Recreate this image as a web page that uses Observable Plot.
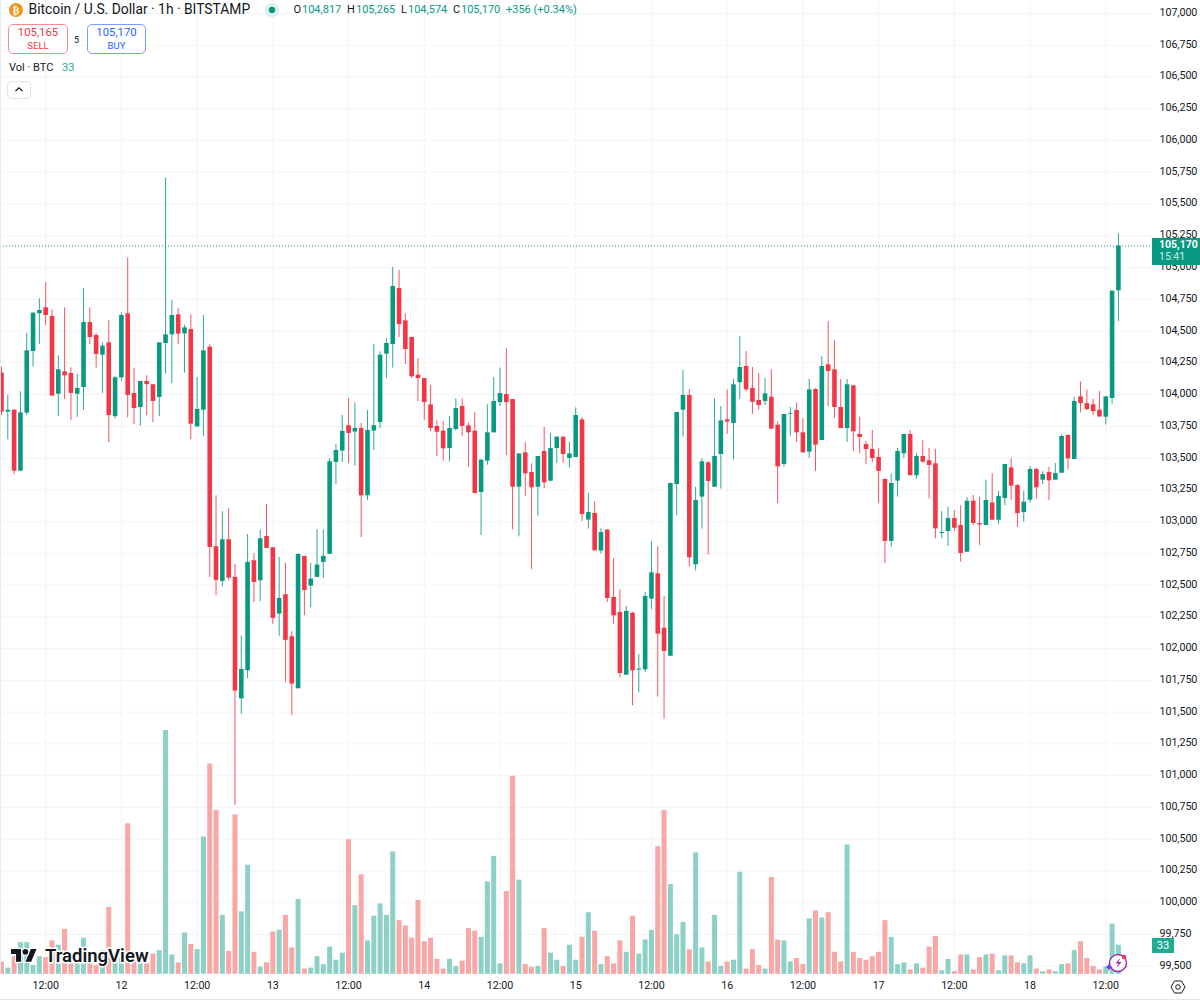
<!DOCTYPE html>
<html>
<head>
<meta charset="utf-8">
<script src="https://cdn.jsdelivr.net/npm/d3@7"></script>
<script src="https://cdn.jsdelivr.net/npm/@observablehq/plot@0.6"></script>
<style>
html,body{margin:0;padding:0;background:#fff;}
#wrap{position:relative;width:1200px;height:1004px;overflow:hidden;font-family:Roboto,sans-serif;color:#131722;}
#wrap svg{display:block;}
.t{position:absolute;white-space:nowrap;line-height:1;}
.box{position:absolute;border-radius:5px;box-sizing:border-box;background:#fff;}
</style>
</head>
<body>
<div id="wrap"></div>
<script>
const startHour = Date.UTC(2025, 5, 11, 5);
const open = [
104169,103862,103877,103397,103854,104339,104636,104683,104615,104003,
104179,104166,104003,104056,104567,104465,104310,104407,103827,104132,
104636,104009,103898,104103,104077,103977,104402,104470,104628,104478,
104512,103746,103877,104373,102802,102529,102857,102561,101605,101826,
102692,102534,102883,102794,102272,102424,102094,101684,102726,102492,
102561,102679,102742,103466,103555,103755,103705,103734,103203,103713,
103780,104318,104394,104835,104580,104449,104153,104126,103919,103749,
103712,103575,103725,103906,103754,103712,103229,103476,103699,103937,
104000,103961,103271,103541,103386,103271,103552,103318,103575,103665,
103497,103504,103801,103012,103064,102768,102933,102403,102285,101791,
102279,101831,101833,102390,102589,102161,101941,103292,103877,103993,
102660,103193,103463,103271,103528,103801,103772,104093,104221,104048,
103954,103946,103980,103759,103450,103843,103875,103699,103547,104040,
103639,104234,104195,103898,103733,104069,103686,103607,103568,103505,
103332,102844,103319,103534,103686,103361,103513,103479,103455,102906,
102922,103024,102969,102759,103161,102985,102969,103147,103011,103182,
103423,103284,103071,103168,103410,103326,103386,103326,103381,103678,
103489,103982,103929,103919,103877,103822,103969,104817];
const high = [
104216,103993,103883,104022,104483,104644,104754,104882,104667,104305,
104683,104211,104158,104835,104683,104483,104407,104581,104145,104644,
105077,104208,104106,104148,104079,104407,105704,104741,104678,104546,
104628,104132,104623,104395,103203,103078,103101,102663,102099,102899,
102747,102933,103135,102797,102718,102671,102133,102747,102726,102671,
102938,102933,103495,103608,103836,103967,103933,103773,103873,104395,
104336,104441,105000,104977,104635,104449,104284,104126,104071,103793,
103788,103827,103966,103966,103777,103856,103486,103919,104134,104210,
104360,103961,103533,103623,103455,103512,103741,103693,103667,103667,
103623,103895,103819,103224,103156,102943,102938,102707,102463,102332,
102285,101954,102442,102844,102802,102411,103303,103859,104190,104038,
103271,103497,103470,103969,103906,104037,104119,104457,104339,104213,
104166,104127,104195,103786,103843,103898,103933,103812,104119,104045,
104300,104575,104423,104119,104119,104072,103822,103631,103717,103573,
103332,103376,103576,103686,103717,103534,103636,103576,103568,103079,
103113,103087,103124,103189,103205,103192,103326,103376,103237,103449,
103496,103292,103237,103433,103418,103392,103428,103457,103683,103683,
103979,104100,104037,103961,104024,103985,104814,105265];
const low = [
103835,103644,103368,103397,103835,104216,104394,104544,103988,103827,
103961,103796,103822,103877,104394,104208,104009,103623,103809,104106,
103817,103762,103749,103835,103780,103827,104161,104085,104394,104169,
103644,103741,103670,102561,102416,102487,102534,100766,101482,101763,
102364,102369,102789,102191,102096,101734,101474,101684,102259,102322,
102561,102553,102742,103293,103466,103458,103437,102873,103167,103560,
103733,104126,104208,104449,104237,104126,103945,103796,103709,103512,
103476,103470,103712,103670,103428,103221,102890,103444,103696,103906,
103520,102935,102880,103197,102623,103043,103258,103315,103457,103457,
103423,103504,103001,102941,102770,102744,102363,102193,101770,101791,
101550,101652,101812,102308,101618,101445,101941,103046,103665,102644,
102610,102941,102736,103271,103256,103686,103486,103961,104022,103843,
103877,103914,103728,103143,103429,103670,103623,103536,103497,103395,
103639,103906,103814,103733,103623,103552,103534,103450,103465,103145,
102670,102796,103193,103497,103361,103332,103458,103177,102865,102864,
102804,102924,102680,102759,102969,102812,102969,103011,102977,103126,
103168,102953,102995,103147,103176,103292,103166,103326,103381,103407,
103486,103856,103874,103835,103819,103761,103924,104574];
const close = [
103862,103877,103397,103856,104344,104641,104662,104623,103988,104195,
104148,104009,104048,104567,104449,104316,104381,103835,104132,104623,
103993,103890,104103,104079,103946,104407,104470,104623,104476,104525,
103767,103883,104344,102797,102537,102857,102555,101666,101836,102679,
102521,102865,102789,102238,102395,102065,101721,102742,102458,102547,
102658,102726,103471,103560,103710,103694,103734,103203,103718,103755,
104310,104402,104851,104551,104355,104140,104126,103937,103733,103704,
103573,103733,103890,103749,103699,103221,103484,103699,103945,104008,
103937,103271,103533,103376,103266,103512,103305,103575,103665,103528,
103533,103835,103056,103072,102770,102914,102395,102258,101804,102293,
101825,101839,102411,102597,102114,101978,103300,103859,103993,102715,
103166,103471,103316,103513,103793,103783,104077,104213,104037,103940,
103914,104006,103728,103431,103843,103849,103699,103542,104037,103602,
104221,104182,103898,103733,104077,103707,103662,103568,103497,103395,
102844,103300,103552,103686,103361,103513,103468,103442,102943,102914,
103024,102948,102749,103161,102985,102974,103166,103011,103197,103449,
103279,103063,103153,103410,103266,103370,103321,103378,103670,103494,
103945,103929,103882,103866,103824,103982,104814,105170];
const volume = [
14,7,20,36,36,10,20,19,38,33,
51,13,12,41,12,10,27,76,23,18,
171,14,12,12,23,27,277,22,13,47,
34,28,156,239,186,67,26,181,71,124,
25,8,13,48,50,67,30,85,6,7,
20,11,31,16,24,153,78,113,38,66,
80,67,139,61,55,41,84,37,41,17,
6,17,9,15,52,49,42,105,134,12,
94,225,107,11,8,9,52,24,16,9,
33,16,42,70,49,11,20,12,38,25,
66,23,39,50,145,186,102,45,59,28,
138,30,14,67,9,14,16,116,6,28,
10,6,110,39,38,14,18,11,63,72,
64,70,25,14,147,25,18,16,20,25,
61,42,11,13,5,12,7,31,43,4,
17,3,22,22,5,19,22,23,4,21,
21,13,12,21,6,3,5,3,11,12,
27,37,18,9,5,8,57,33];
const priceTicks = d3.range(99500, 107001, 250);
const timeTicks = d3.range(0, 15).map(k => new Date(Date.UTC(2025, 5, 11, 12) + k * 12 * 3600e3));
const lastPrice = 105170;

// Volume pane sits at the bottom of the price pane, like an overlay scale.
const volumeBase = 99436, pricePerVolume = 6.93;
const candles = open.map((o, i) => ({
  t: new Date(startHour + i * 3600e3), o, h: high[i], l: low[i], c: close[i], v: volume[i],
  up: close[i] >= o
}));
const UP = "#089981", DOWN = "#f23645", UPV = "#8dd1c6", DOWNV = "#f8a6a6", GRID = "#f3f4f6";

const chart = Plot.plot({
  width: 1200, height: 1004,
  marginTop: 0, marginLeft: 0, marginRight: 48, marginBottom: 30,
  style: {fontFamily: "Roboto, sans-serif", fontSize: "10.7px", letterSpacing: "-0.05px", color: "#131722", background: "transparent"},
  x: {type: "utc", domain: [new Date(startHour), new Date(startHour + 177 * 3600e3)], range: [1, 1117.9]},
  y: {domain: [99500, 107000], range: [965.7, 13]},
  marks: [
    Plot.ruleY(priceTicks, {stroke: GRID, strokeWidth: 1}),
    Plot.ruleX(timeTicks, {stroke: GRID, strokeWidth: 1}),
    Plot.ruleX(candles, {x: "t", y1: volumeBase, y2: d => volumeBase + d.v * pricePerVolume,
      stroke: d => d.up ? UPV : DOWNV, strokeWidth: 5}),
    Plot.ruleY([lastPrice], {stroke: UP, strokeWidth: 1, strokeDasharray: "1 2"}),
    Plot.ruleX(candles, {x: "t", y1: "l", y2: "h", stroke: d => d.up ? UP : DOWN, strokeWidth: 1, strokeOpacity: 0.85}),
    Plot.ruleX(candles, {x: "t", y1: d => Math.min(d.o, d.c), y2: d => Math.max(d.o, d.c),
      stroke: d => d.up ? UP : DOWN, strokeWidth: 4.6}),
    Plot.axisY(priceTicks, {anchor: "right", tickSize: 0, tickPadding: 7, label: null, tickFormat: d3.format(","), dy: -1}),
    Plot.axisX(timeTicks, {anchor: "bottom", tickSize: 0, tickPadding: 7, label: null,
      tickFormat: d => d.getUTCHours() === 12 ? "12:00" : String(d.getUTCDate())})
  ]
});
const wrap = document.getElementById("wrap");
wrap.appendChild(chart);

function text(x, y, s, style = "") {
  return `<div class="t" style="left:${x}px;top:${y}px;${style}">${s}</div>`;
}
const val = "font-size:11px;color:#089981;", lab = "font-size:11px;";
wrap.insertAdjacentHTML("beforeend", `
<div style="position:absolute;left:0;top:0;width:1px;height:975px;background:#e9eaee"></div>
<div style="position:absolute;left:0;top:999px;width:1200px;height:1px;background:#e0e3eb"></div>
<svg style="position:absolute;left:9px;top:3px" width="14" height="14" viewBox="0 0 14 14"><circle cx="7" cy="7" r="7" fill="#f7931a"/><text x="7" y="10.5" text-anchor="middle" font-size="10" font-weight="700" fill="#fff" font-family="Roboto">₿</text></svg>
${text(28.5, 3, "Bitcoin / U.S. Dollar · 1h · BITSTAMP", "font-size:13.85px")}
<svg style="position:absolute;left:264px;top:2px" width="16" height="16" viewBox="0 0 16 16"><circle cx="8" cy="8" r="7.5" fill="#dff2ee"/><circle cx="8" cy="8" r="3.2" fill="#089981"/></svg>
${text(293.5, 4, "O", lab)}${text(302, 4, "104,817", val)}
${text(347, 4, "H", lab)}${text(356, 4, "105,265", val)}
${text(401, 4, "L", lab)}${text(408, 4, "104,574", val)}
${text(453, 4, "C", lab)}${text(461, 4, "105,170", val)}
${text(506, 4, "+356 (+0.34%)", val)}
<div class="box" style="left:8px;top:24px;width:60px;height:29.5px;border:1.3px solid #f98a92"></div>
${text(8, 27, "105,165", "width:60px;text-align:center;font-size:11.3px;color:#f23645")}
${text(8, 41, "SELL", "width:60px;text-align:center;font-size:9.5px;color:#f23645")}
${text(74, 36, "5", "font-size:9px")}
<div class="box" style="left:87px;top:24px;width:59px;height:29.5px;border:1.3px solid #7a9cff"></div>
${text(87, 27, "105,170", "width:59px;text-align:center;font-size:11.3px;color:#2962ff")}
${text(87, 41, "BUY", "width:59px;text-align:center;font-size:9.5px;color:#2962ff")}
${text(9, 62, "Vol · BTC", "font-size:11px")}
${text(62, 62, "33", "font-size:11px;color:#22ab94")}
<div class="box" style="left:7px;top:81px;width:24px;height:17.5px;border:1px solid #e0e3eb"></div>
<svg style="position:absolute;left:14px;top:86px" width="10" height="7" viewBox="0 0 10 7"><path d="M1.5 5 L5 1.8 L8.5 5" fill="none" stroke="#131722" stroke-width="1.2"/></svg>
<div style="position:absolute;left:1152px;top:238px;width:48px;height:27px;background:#089981"></div>
${text(1159, 240, "105,170", "font-size:10.5px;font-weight:700;color:#fff")}
${text(1159, 252, "15:41", "font-size:10.5px;color:#cfeee8")}
<div style="position:absolute;left:1152px;top:938px;width:22px;height:15px;background:#22ab94"></div>
${text(1152, 940, "33", "width:22px;text-align:center;font-size:11px;color:#fff")}
<svg style="position:absolute;left:9px;top:944px;overflow:visible" width="145" height="24" viewBox="0 0 145 24">
  <g transform="translate(2,2) scale(0.72)" fill="#131722" stroke="#fff" stroke-width="3" paint-order="stroke">
    <path d="M14 22H7V11H0V4h14v18z"/><path d="M28 22h-8l7.5-18h8L28 22z"/><circle cx="20" cy="8" r="4"/>
  </g>
  <text x="36" y="17.5" font-family="Roboto" font-weight="600" font-size="18.5" fill="#131722" stroke="#fff" stroke-width="3" paint-order="stroke">TradingView</text>
</svg>
<svg style="position:absolute;left:1103px;top:950px;overflow:visible" width="30" height="24" viewBox="0 0 30 24">
  <circle cx="15" cy="13" r="8.5" fill="#fff" stroke="#9c27b0" stroke-width="1.4"/>
  <path d="M17 8 L12.5 13.5 H15.5 L13.5 18 L18.5 12 H15.5 Z" fill="#9c27b0"/>
  <path d="M6 13 Q6.6 16.4 10 17 Q6.6 17.6 6 21 Q5.4 17.6 2 17 Q5.4 16.4 6 13Z" fill="#6a3df0"/>
  <circle cx="21" cy="7" r="2.2" fill="#f23645"/>
</svg>
<svg style="position:absolute;left:1170px;top:979px" width="16" height="16" viewBox="0 0 16 16"><path d="M4.5 2 H11.5 L15 8 L11.5 14 H4.5 L1 8 Z" fill="none" stroke="#131722" stroke-width="1"/><circle cx="8" cy="8" r="2.3" fill="none" stroke="#131722" stroke-width="1"/></svg>
`);
</script>
</body>
</html>
